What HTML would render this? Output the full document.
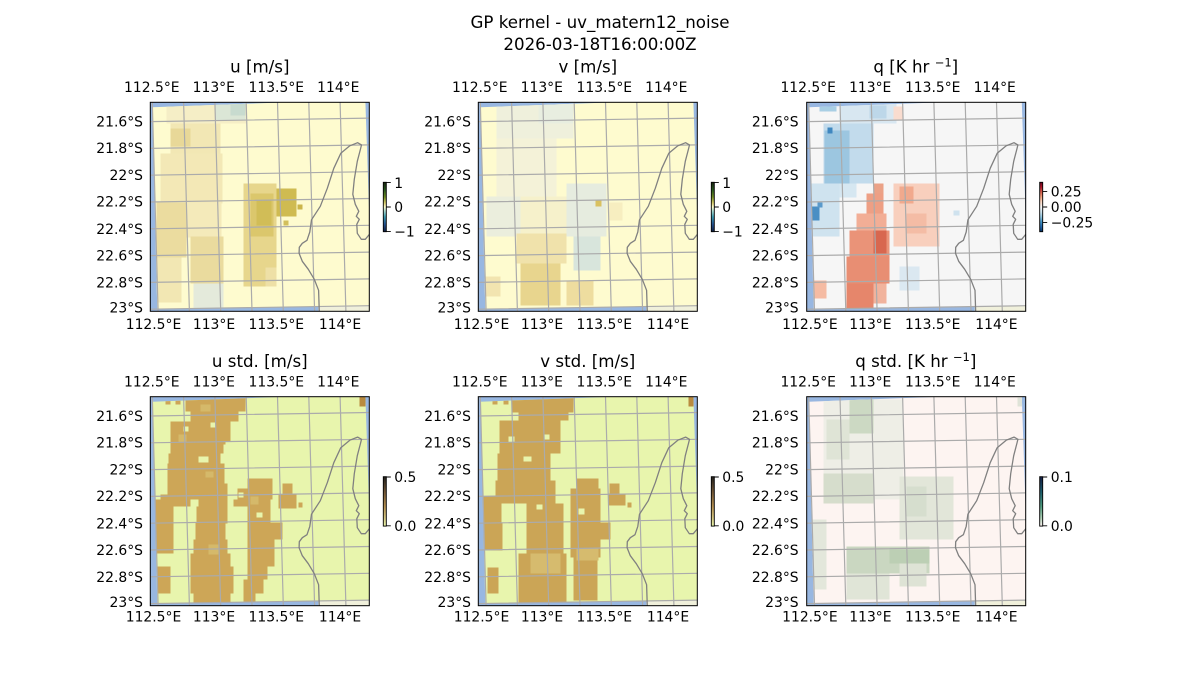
<!DOCTYPE html>
<html><head><meta charset="utf-8"><style>
html,body{margin:0;padding:0;background:#fff;}
svg{display:block;font-family:"DejaVu Sans","Liberation Sans",sans-serif;}
.t{font-size:16.67px;fill:#000;text-anchor:middle;}
.k{font-size:13.9px;fill:#000;}
.m{text-anchor:middle;}
.e{text-anchor:end;}
</style></head><body>
<svg width="1200" height="700" viewBox="0 0 1200 700" xmlns="http://www.w3.org/2000/svg">
<defs>
<clipPath id="pc"><rect x="0" y="0" width="219" height="209"/></clipPath>
<clipPath id="dq"><polygon points="2,5 215,-3 222,203 7,207"/></clipPath>
<g id="grid" fill="none" stroke="#ababab" stroke-width="1.2">
<path d="M2,0L7.8,209M33.3,0L39.1,209M64.6,0L70.4,209M95.9,0L101.7,209M127.2,0L133,209M158.5,0L164.3,209M189.8,0L195.6,209"/>
<path d="M0,19.3L219,15.8M0,46.1L219,42.6M0,72.9L219,69.4M0,99.7L219,96.2M0,126.5L219,123M0,153.3L219,149.8M0,180.1L219,176.6M0,206.9L219,203.4"/>
</g>
<path id="coast" fill="none" stroke="#808080" stroke-width="1.3" stroke-linejoin="round" d="M169,210 L168.3,188 L164,177 L158,167 L152,159 L148.8,151 L149,145 L152,141 L156.7,138 L159.5,129.7 L161.2,117.5 L170,104 L177,86 L183.5,66 L190.5,51 L199.5,43.5 L207.3,40.4 L211.2,42.6 L210.3,46.3 L207,59 L204,77 L202.5,92 L205,102 L208.5,109 L206,114 L209,117 L206.5,122 L207,131 L211,137 L215,137 L220,131"/>
<linearGradient id="gd" x1="0" y1="0" x2="0" y2="1">
<stop offset="0" stop-color="#17230f"/><stop offset="0.15" stop-color="#26551d"/><stop offset="0.3" stop-color="#6e8c22"/><stop offset="0.42" stop-color="#d9cc6e"/><stop offset="0.5" stop-color="#fffdcd"/><stop offset="0.58" stop-color="#a9d8cf"/><stop offset="0.7" stop-color="#3c9aae"/><stop offset="0.85" stop-color="#23508f"/><stop offset="1" stop-color="#111f40"/>
</linearGradient>
<linearGradient id="gr" x1="0" y1="0" x2="0" y2="1">
<stop offset="0" stop-color="#67001f"/><stop offset="0.1" stop-color="#b2182b"/><stop offset="0.2" stop-color="#d6604d"/><stop offset="0.3" stop-color="#f4a582"/><stop offset="0.4" stop-color="#fddbc7"/><stop offset="0.5" stop-color="#f7f7f7"/><stop offset="0.6" stop-color="#d1e5f0"/><stop offset="0.7" stop-color="#92c5de"/><stop offset="0.8" stop-color="#4393c3"/><stop offset="0.9" stop-color="#2166ac"/><stop offset="1" stop-color="#053061"/>
</linearGradient>
<linearGradient id="gt" x1="0" y1="0" x2="0" y2="1">
<stop offset="0" stop-color="#22201c"/><stop offset="0.3" stop-color="#6f5536"/><stop offset="0.6" stop-color="#b38e50"/><stop offset="0.85" stop-color="#d5c884"/><stop offset="1" stop-color="#e9f6ab"/>
</linearGradient>
<linearGradient id="gm" x1="0" y1="0" x2="0" y2="1">
<stop offset="0" stop-color="#151d44"/><stop offset="0.3" stop-color="#1c5b6a"/><stop offset="0.6" stop-color="#4f9a7d"/><stop offset="0.85" stop-color="#b3d2b9"/><stop offset="1" stop-color="#fff6f4"/>
</linearGradient>
</defs>

<rect width="1200" height="700" fill="#fff"/>

<!-- Titles -->
<text class="t" x="600" y="28">GP kernel - uv_matern12_noise</text>
<text class="t" x="600" y="50">2026-03-18T16:00:00Z</text>
<text class="t" x="259.8" y="72.5">u [m/s]</text>
<text class="t" x="587.8" y="72.5">v [m/s]</text>
<text class="t" x="915.8" y="72.5">q [K hr <tspan font-size="11.5px" dy="-6">−1</tspan><tspan dy="6">]</tspan></text>
<text class="t" x="259.8" y="366.9">u std. [m/s]</text>
<text class="t" x="587.8" y="366.9">v std. [m/s]</text>
<text class="t" x="915.8" y="366.9">q std. [K hr <tspan font-size="11.5px" dy="-6">−1</tspan><tspan dy="6">]</tspan></text>

<!-- ===== Panel 1: u ===== -->
<g transform="translate(150.3,102.3)">
<g clip-path="url(#pc)">
<rect width="219" height="209" fill="#98b7e1"/>
<rect x="168" y="190" width="60" height="25" fill="#f0f0db"/>
<g clip-path="url(#dq)" shape-rendering="crispEdges">
<rect x="-5" y="-5" width="230" height="220" fill="#fefbcf"/>
<rect x="16" y="1" width="80" height="20" fill="#f5eec6"/>
<rect x="65" y="1" width="30" height="17" fill="#dbe6d6"/>
<rect x="80" y="1" width="15" height="12" fill="#c8dbcf"/>
<rect x="20" y="21" width="50" height="30" fill="#f2e7b4"/>
<rect x="20" y="26" width="20" height="18" fill="#e8d898"/>
<rect x="10" y="51" width="62" height="50" fill="#f3e8b6"/>
<rect x="6" y="100" width="30" height="55" fill="#ebdc9f"/>
<rect x="36" y="100" width="35" height="35" fill="#f4eaba"/>
<rect x="40" y="134" width="33" height="47" fill="#eadb9e"/>
<rect x="6" y="155" width="25" height="45" fill="#f2e7b3"/>
<rect x="43" y="181" width="30" height="25" fill="#e4eadb"/>
<rect x="93" y="81" width="33" height="103" fill="#e7d68c"/>
<rect x="100" y="91" width="23" height="43" fill="#dbc76c"/>
<rect x="106" y="98" width="15" height="25" fill="#d1bd57"/>
<rect x="115" y="165" width="11" height="19" fill="#eee0a6"/>
<rect x="126" y="86" width="20" height="28" fill="#cfbb51"/>
<rect x="147" y="102" width="5" height="5" fill="#cbb54a"/>
<rect x="133" y="118" width="5" height="5" fill="#d2bf5c"/>
</g>
<use href="#grid"/><use href="#coast"/>
</g>
<rect width="219" height="209" fill="none" stroke="#000" stroke-width="1"/>
</g>

<!-- ===== Panel 2: v ===== -->
<g transform="translate(478.3,102.3)">
<g clip-path="url(#pc)">
<rect width="219" height="209" fill="#98b7e1"/>
<rect x="168" y="190" width="60" height="25" fill="#f0f0db"/>
<g clip-path="url(#dq)" shape-rendering="crispEdges">
<rect x="-5" y="-5" width="230" height="220" fill="#fefbcf"/>
<rect x="18" y="1" width="77" height="35" fill="#eff0dc"/>
<rect x="60" y="1" width="35" height="20" fill="#e8eee0"/>
<rect x="18" y="36" width="60" height="58" fill="#f4f2d8"/>
<rect x="8" y="94" width="34" height="40" fill="#ebeedd"/>
<rect x="42" y="94" width="46" height="40" fill="#f6f1cb"/>
<rect x="88" y="81" width="40" height="53" fill="#e6ecdf"/>
<rect x="95" y="134" width="27" height="34" fill="#d8e5dc"/>
<rect x="38" y="131" width="50" height="30" fill="#f0e2ab"/>
<rect x="42" y="161" width="40" height="42" fill="#e8d58e"/>
<rect x="5" y="174" width="17" height="20" fill="#f2e4b0"/>
<rect x="88" y="178" width="27" height="25" fill="#eedd9f"/>
<rect x="117" y="98" width="6" height="6" fill="#d9c160"/>
<rect x="130" y="100" width="14" height="18" fill="#f7eec0"/>
</g>
<use href="#grid"/><use href="#coast"/>
</g>
<rect width="219" height="209" fill="none" stroke="#000" stroke-width="1"/>
</g>

<!-- ===== Panel 3: q ===== -->
<g transform="translate(806.7,102.3)">
<g clip-path="url(#pc)">
<rect width="219" height="209" fill="#98b7e1"/>
<rect x="168" y="190" width="60" height="25" fill="#f0f0db"/>
<g clip-path="url(#dq)" shape-rendering="crispEdges">
<rect x="-5" y="-5" width="230" height="220" fill="#f6f6f6"/>
<rect x="33" y="1" width="57" height="20" fill="#d8e7f1"/>
<rect x="63" y="3" width="17" height="13" fill="#bdd7e9"/>
<rect x="13" y="4" width="17" height="5" fill="#a9cfe4"/>
<rect x="17" y="21" width="50" height="60" fill="#c2dbec"/>
<rect x="18" y="28" width="25" height="60" fill="#9cc6e0"/>
<rect x="20.7" y="25" width="5" height="6" fill="#3f87bf"/>
<rect x="3" y="81" width="30" height="53" fill="#cfe3ef"/>
<rect x="5" y="104" width="8" height="14" fill="#4a8fc4"/>
<rect x="11" y="100" width="5" height="5" fill="#5a9acb"/>
<rect x="33" y="81" width="17" height="14" fill="#d6e7f1"/>
<rect x="93" y="164" width="20" height="24" fill="#dbe8f1"/>
<rect x="147" y="108" width="6" height="5" fill="#cfe2ee"/>
<rect x="87" y="81" width="46" height="63" fill="#f8cfbd"/>
<rect x="93" y="84" width="14" height="17" fill="#f1a98d"/>
<rect x="100" y="111" width="20" height="20" fill="#f4bca5"/>
<rect x="67" y="81" width="10" height="13" fill="#eba287"/>
<rect x="60" y="91" width="17" height="30" fill="#ee9f84"/>
<rect x="50" y="111" width="30" height="17" fill="#f2ae96"/>
<rect x="43" y="128" width="40" height="26" fill="#ea9378"/>
<rect x="67" y="128" width="13" height="23" fill="#d8674f"/>
<rect x="40" y="154" width="43" height="27" fill="#e88e73"/>
<rect x="40" y="181" width="27" height="27" fill="#e6866b"/>
<rect x="67" y="181" width="13" height="20" fill="#f1b39d"/>
<rect x="87" y="4" width="10" height="14" fill="#f9dccf"/>
<rect x="5" y="178" width="15" height="18" fill="#f5bba3"/>
</g>
<use href="#grid"/><use href="#coast"/>
</g>
<rect width="219" height="209" fill="none" stroke="#000" stroke-width="1"/>
</g>

<!-- ===== Panel 4: u std ===== -->
<g transform="translate(150.3,396.7)">
<g clip-path="url(#pc)">
<rect width="219" height="209" fill="#98b7e1"/>
<rect x="168" y="190" width="60" height="25" fill="#f0f0db"/>
<g clip-path="url(#dq)" shape-rendering="crispEdges">
<rect x="-5" y="-5" width="230" height="220" fill="#e8f5ad"/>
<path fill="#cda657" d="M15,3h5v5h-5zM25,3h5v5h-5zM35,-5h60v20h-60zM40,15h48v10h-48zM20,25h60v20h-60zM20,45h55v12h-55zM18,57h52v10h-52zM17,67h57v20h-57zM17,87h60v12h-60zM10,98h67v5h-67zM3,103h37v7h-37zM48,103h29v7h-29zM3,110h20v47h-20zM46,110h31v17h-31zM45,126h30v17h-30zM43,143h34v14h-34zM40,157h40v13h-40zM40,170h43v27h-43zM43,197h37v15h-37zM7,170h13v27h-13zM97,82h25v10h-25zM87,92h35v11h-35zM83,103h37v7h-37zM97,110h23v16h-23zM97,126h35v17h-35zM97,143h27v27h-27zM97,170h20v13h-20zM93,183h20v14h-20zM93,197h12v8h-12zM132,87h10v11h-10zM128,98h18v14h-18zM148,106h4v5h-4z"/>
<path fill="#d5b96a" d="M50,8h10v7h-10zM28,38h8v8h-8zM58,148h10v10h-10zM100,100h8v8h-8zM55,75h8v6h-8z"/>
<path fill="#e8f5ad" d="M48,60h10v6h-10zM33,30h5v5h-5zM73,48h4v10h-4zM60,26h5v5h-5zM106,116h6v5h-6zM88,96h5v5h-5z"/>
<rect x="209" y="-5" width="6" height="15" fill="#b98b3f"/>
</g>
<use href="#grid"/><use href="#coast"/>
</g>
<rect width="219" height="209" fill="none" stroke="#000" stroke-width="1"/>
</g>

<!-- ===== Panel 5: v std ===== -->
<g transform="translate(478.3,396.7)">
<g clip-path="url(#pc)">
<rect width="219" height="209" fill="#98b7e1"/>
<rect x="168" y="190" width="60" height="25" fill="#f0f0db"/>
<g clip-path="url(#dq)" shape-rendering="crispEdges">
<rect x="-5" y="-5" width="230" height="220" fill="#e8f5ad"/>
<path fill="#cba556" d="M14,3h5v5h-5zM25,3h5v5h-5zM33,-5h62v21h-62zM40,16h50v8h-50zM21,24h61v33h-61zM19,57h53v27h-53zM17,84h60v23h-60zM3,100h20v26h-20zM4,126h20v28h-20zM9,171h11v26h-11zM48,107h37v50h-37zM40,157h48v55h-48zM98,82h22v10h-22zM92,92h30v69h-30zM122,126h10v17h-10zM95,161h24v43h-24zM131,87h10v10h-10zM130,97h17v12h-17zM149,106h4v5h-4z"/>
<path fill="#d6bb6e" d="M52,157h30v20h-30zM98,152h22v12h-22z"/>
<path fill="#e8f5ad" d="M30,40h6v6h-6zM45,60h8v5h-8zM65,38h6v5h-6zM100,112h6v6h-6zM58,108h6v5h-6z"/>
<rect x="210" y="-5" width="5" height="15" fill="#b98b3f"/>
</g>
<use href="#grid"/><use href="#coast"/>
</g>
<rect width="219" height="209" fill="none" stroke="#000" stroke-width="1"/>
</g>

<!-- ===== Panel 6: q std ===== -->
<g transform="translate(806.7,396.7)">
<g clip-path="url(#pc)">
<rect width="219" height="209" fill="#98b7e1"/>
<rect x="168" y="190" width="60" height="25" fill="#f0f0db"/>
<g clip-path="url(#dq)" shape-rendering="crispEdges">
<rect x="-5" y="-5" width="230" height="220" fill="#fdf4f1"/>
<rect x="17" y="3" width="80" height="100" fill="#eeeee6"/>
<rect x="20" y="23" width="23" height="40" fill="#dfe4d6"/>
<rect x="43" y="3" width="24" height="34" fill="#ccd9c3"/>
<rect x="17" y="77" width="50" height="30" fill="#d6ddcc"/>
<rect x="93" y="80" width="54" height="63" fill="#e2e6d9"/>
<rect x="100" y="90" width="20" height="30" fill="#d6dece"/>
<rect x="3" y="123" width="17" height="70" fill="#e3e7db"/>
<rect x="40" y="150" width="83" height="27" fill="#cad7c1"/>
<rect x="83" y="153" width="40" height="14" fill="#bccfb4"/>
<rect x="40" y="177" width="43" height="26" fill="#e0e5d7"/>
<rect x="93" y="167" width="27" height="23" fill="#dee3d5"/>
<rect x="211" y="1" width="5" height="9" fill="#dfe3d8"/>
</g>
<use href="#grid"/><use href="#coast"/>
</g>
<rect width="219" height="209" fill="none" stroke="#000" stroke-width="1"/>
</g>

<!-- ===== Tick labels ===== -->
<g class="k">
<!-- row 1 top x -->
<text class="m" x="151.8" y="92.2">112.5°E</text><text class="m" x="213.8" y="92.2">113°E</text><text class="m" x="276.3" y="92.2">113.5°E</text><text class="m" x="338.3" y="92.2">114°E</text>
<text class="m" x="479.8" y="92.2">112.5°E</text><text class="m" x="541.8" y="92.2">113°E</text><text class="m" x="604.3" y="92.2">113.5°E</text><text class="m" x="666.3" y="92.2">114°E</text>
<text class="m" x="808.2" y="92.2">112.5°E</text><text class="m" x="870.2" y="92.2">113°E</text><text class="m" x="932.7" y="92.2">113.5°E</text><text class="m" x="994.7" y="92.2">114°E</text>
<!-- row 1 bottom x -->
<text class="m" x="153.5" y="328.9">112.5°E</text><text class="m" x="214" y="328.9">113°E</text><text class="m" x="276.3" y="328.9">113.5°E</text><text class="m" x="340" y="328.9">114°E</text>
<text class="m" x="481.5" y="328.9">112.5°E</text><text class="m" x="542" y="328.9">113°E</text><text class="m" x="604.3" y="328.9">113.5°E</text><text class="m" x="668" y="328.9">114°E</text>
<text class="m" x="809.9" y="328.9">112.5°E</text><text class="m" x="870.4" y="328.9">113°E</text><text class="m" x="932.7" y="328.9">113.5°E</text><text class="m" x="996.4" y="328.9">114°E</text>
<!-- row 2 top x -->
<text class="m" x="151.8" y="386.6">112.5°E</text><text class="m" x="213.8" y="386.6">113°E</text><text class="m" x="276.3" y="386.6">113.5°E</text><text class="m" x="338.3" y="386.6">114°E</text>
<text class="m" x="479.8" y="386.6">112.5°E</text><text class="m" x="541.8" y="386.6">113°E</text><text class="m" x="604.3" y="386.6">113.5°E</text><text class="m" x="666.3" y="386.6">114°E</text>
<text class="m" x="808.2" y="386.6">112.5°E</text><text class="m" x="870.2" y="386.6">113°E</text><text class="m" x="932.7" y="386.6">113.5°E</text><text class="m" x="994.7" y="386.6">114°E</text>
<!-- row 2 bottom x -->
<text class="m" x="153.5" y="621.6">112.5°E</text><text class="m" x="214" y="621.6">113°E</text><text class="m" x="276.3" y="621.6">113.5°E</text><text class="m" x="340" y="621.6">114°E</text>
<text class="m" x="481.5" y="621.6">112.5°E</text><text class="m" x="542" y="621.6">113°E</text><text class="m" x="604.3" y="621.6">113.5°E</text><text class="m" x="668" y="621.6">114°E</text>
<text class="m" x="809.9" y="621.6">112.5°E</text><text class="m" x="870.4" y="621.6">113°E</text><text class="m" x="932.7" y="621.6">113.5°E</text><text class="m" x="996.4" y="621.6">114°E</text>

<!-- y labels, row 1 -->
<g class="e">
<text x="143" y="126.6">21.6°S</text><text x="143" y="153.2">21.8°S</text><text x="143" y="179.9">22°S</text><text x="143" y="206.6">22.2°S</text><text x="143" y="233.9">22.4°S</text><text x="143" y="260.6">22.6°S</text><text x="143" y="287.6">22.8°S</text><text x="143" y="312.6">23°S</text>
<text x="471" y="126.6">21.6°S</text><text x="471" y="153.2">21.8°S</text><text x="471" y="179.9">22°S</text><text x="471" y="206.6">22.2°S</text><text x="471" y="233.9">22.4°S</text><text x="471" y="260.6">22.6°S</text><text x="471" y="287.6">22.8°S</text><text x="471" y="312.6">23°S</text>
<text x="798.6" y="126.6">21.6°S</text><text x="798.6" y="153.2">21.8°S</text><text x="798.6" y="179.9">22°S</text><text x="798.6" y="206.6">22.2°S</text><text x="798.6" y="233.9">22.4°S</text><text x="798.6" y="260.6">22.6°S</text><text x="798.6" y="287.6">22.8°S</text><text x="798.6" y="312.6">23°S</text>
<!-- row 2 -->
<text x="143" y="421">21.6°S</text><text x="143" y="447.6">21.8°S</text><text x="143" y="474.3">22°S</text><text x="143" y="501">22.2°S</text><text x="143" y="528.3">22.4°S</text><text x="143" y="555">22.6°S</text><text x="143" y="582">22.8°S</text><text x="143" y="607">23°S</text>
<text x="471" y="421">21.6°S</text><text x="471" y="447.6">21.8°S</text><text x="471" y="474.3">22°S</text><text x="471" y="501">22.2°S</text><text x="471" y="528.3">22.4°S</text><text x="471" y="555">22.6°S</text><text x="471" y="582">22.8°S</text><text x="471" y="607">23°S</text>
<text x="798.6" y="421">21.6°S</text><text x="798.6" y="447.6">21.8°S</text><text x="798.6" y="474.3">22°S</text><text x="798.6" y="501">22.2°S</text><text x="798.6" y="528.3">22.4°S</text><text x="798.6" y="555">22.6°S</text><text x="798.6" y="582">22.8°S</text><text x="798.6" y="607">23°S</text>
</g>

<!-- ===== Colorbars ===== -->
<!-- u -->
<rect x="383.3" y="182.3" width="3" height="49.4" fill="url(#gd)" stroke="#000" stroke-width="0.9"/>
<path d="M386.3,182.6h4.5M386.3,207h4.5M386.3,231.4h4.5" stroke="#000" stroke-width="0.9"/>
<text x="394.3" y="187.9">1</text><text x="394.3" y="211.9">0</text><text x="394.3" y="236.4">−1</text>
<!-- v -->
<rect x="711.3" y="182.3" width="3" height="49.4" fill="url(#gd)" stroke="#000" stroke-width="0.9"/>
<path d="M714.3,182.6h4.5M714.3,207h4.5M714.3,231.4h4.5" stroke="#000" stroke-width="0.9"/>
<text x="722.3" y="187.9">1</text><text x="722.3" y="211.9">0</text><text x="722.3" y="236.4">−1</text>
<!-- q -->
<rect x="1039.7" y="182.3" width="3" height="49.4" fill="url(#gr)" stroke="#000" stroke-width="0.9"/>
<path d="M1042.7,191.6h4.5M1042.7,207h4.5M1042.7,222.4h4.5" stroke="#000" stroke-width="0.9"/>
<text x="1050.7" y="196.5">0.25</text><text x="1050.7" y="211.9">0.00</text><text x="1050.7" y="227.3">−0.25</text>
<!-- u std -->
<rect x="383.3" y="476.7" width="3" height="49.4" fill="url(#gt)" stroke="#000" stroke-width="0.9"/>
<path d="M386.3,477h4.5M386.3,525.8h4.5" stroke="#000" stroke-width="0.9"/>
<text x="394.3" y="482">0.5</text><text x="394.3" y="530.9">0.0</text>
<!-- v std -->
<rect x="711.3" y="476.7" width="3" height="49.4" fill="url(#gt)" stroke="#000" stroke-width="0.9"/>
<path d="M714.3,477h4.5M714.3,525.8h4.5" stroke="#000" stroke-width="0.9"/>
<text x="722.3" y="482">0.5</text><text x="722.3" y="530.9">0.0</text>
<!-- q std -->
<rect x="1039.7" y="476.7" width="3" height="49.4" fill="url(#gm)" stroke="#000" stroke-width="0.9"/>
<path d="M1042.7,477h4.5M1042.7,525.8h4.5" stroke="#000" stroke-width="0.9"/>
<text x="1050.7" y="482">0.1</text><text x="1050.7" y="530.9">0.0</text>
</g>
</svg>
</body></html>
